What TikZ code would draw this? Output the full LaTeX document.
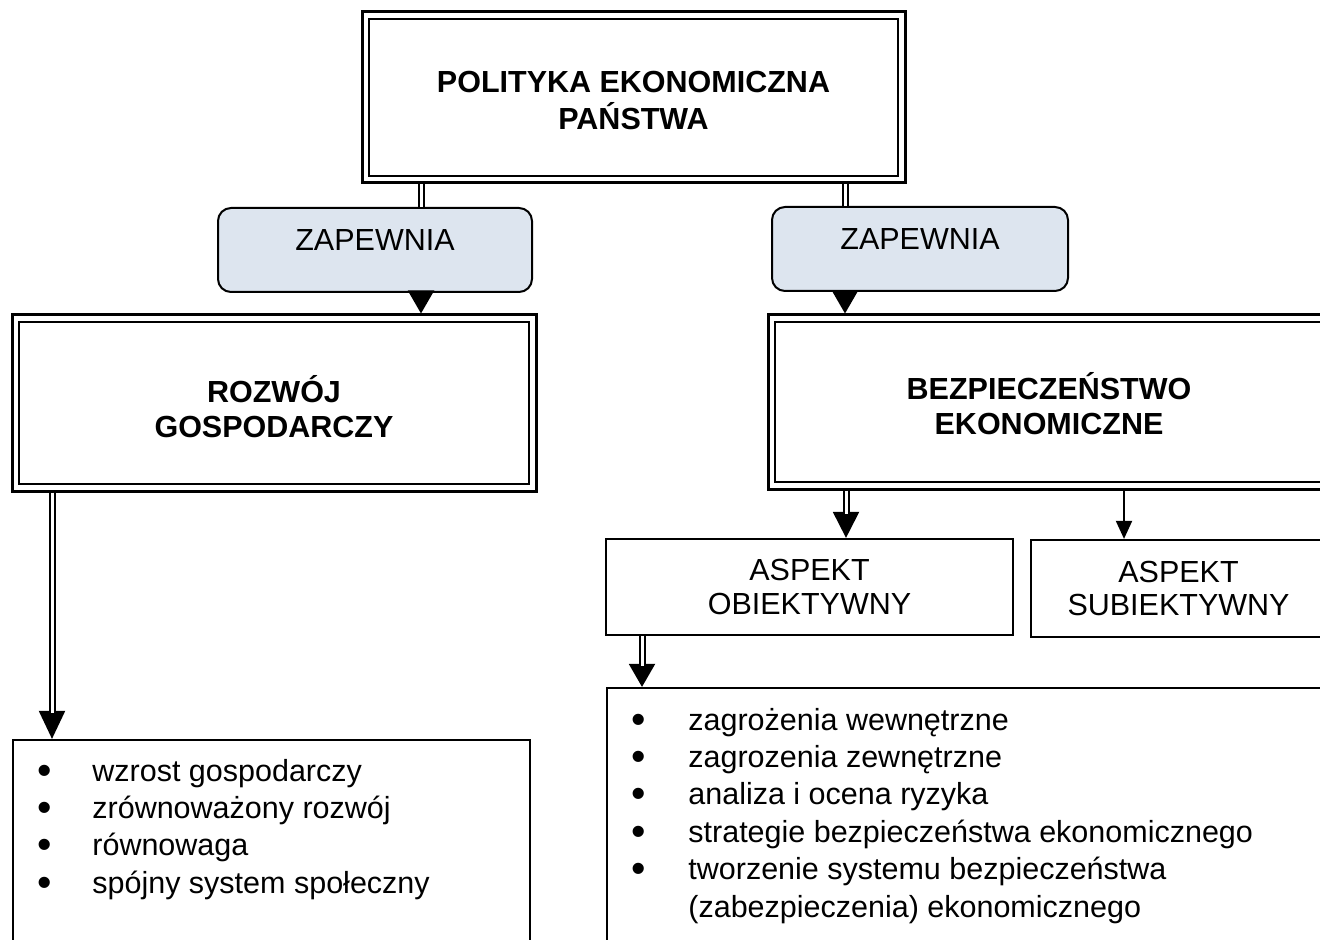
\documentclass[tikz,border=0pt]{standalone}
\usepackage{fontspec}
\setmainfont{Liberation Sans}
\usetikzlibrary{arrows.meta}
\definecolor{zapfill}{RGB}{221,229,239}
% two centred lines, moved down by #1 without changing the box size
\newcommand\droptitle[2]{\raisebox{-#1}[\height][\depth]{\begin{tabular}{@{}c@{}}#2\end{tabular}}}
% enlarged list bullet
\newcommand\blt{\raisebox{-1.5pt}{\scalebox{1.35}{•}}}
\begin{document}
\begin{tikzpicture}[x=0.5pt,y=-0.5pt,
  every node/.style={font=\fontsize{15.25pt}{17.5pt}\selectfont},
  title/.style={font=\fontsize{15.25pt}{17.5pt}\selectfont\bfseries},
  dblbox/.style={draw, line width=1.5pt, rectangle, inner sep=0pt},
  innerframe/.style={line width=1pt},
  zapbox/.style={draw, line width=1pt, rounded corners=6.5pt, fill=zapfill, inner sep=0pt},
  plainbox/.style={draw, line width=1.1pt, inner sep=0pt, align=center,
    font=\fontsize{15.25pt}{16.75pt}\selectfont},
  listtext/.style={inner sep=0pt, font=\fontsize{15.25pt}{18.7pt}\selectfont},
  dbl/.style={double, line width=1pt, double distance=1.5pt},
  bigtip/.style={line width=1pt, -{Triangle[width=13pt,length=#1]}},
  bigtip/.default=13pt,
  smalltip/.style={line width=1pt, -{Triangle[width=8pt,length=9pt]}},
]
\useasboundingbox (0,0) rectangle (1320,940);

% main box
\node[dblbox, title, minimum width=271.5pt, minimum height=85.5pt] (top) at (633.5,97.5)
  {\droptitle{3.2pt}{POLITYKA EKONOMICZNA\\PAŃSTWA}};

% "ZAPEWNIA" links
\node[zapbox, minimum width=157pt, minimum height=42pt] (zapL) at (375,250)
  {\raisebox{5pt}[\height][\depth]{ZAPEWNIA}};
\node[zapbox, minimum width=148pt, minimum height=42pt] (zapR) at (920,249)
  {\raisebox{5pt}[\height][\depth]{ZAPEWNIA}};

% second level
\node[dblbox, title, minimum width=262pt, minimum height=88pt] (roz) at (274,403)
  {\droptitle{4.2pt}{ROZWÓJ\\GOSPODARCZY}};
\node[dblbox, title, minimum width=281pt, minimum height=87pt] (bez) at (1049,402)
  {\droptitle{3.45pt}{BEZPIECZEŃSTWO\\EKONOMICZNE}};

% aspects
\node[plainbox, minimum width=203.5pt, minimum height=48pt] (aspO) at (809.5,587)
  {ASPEKT\\OBIEKTYWNY};
\node[plainbox, minimum width=147.5pt, minimum height=48.5pt] (aspS) at (1178.5,588.5)
  {ASPEKT\\SUBIEKTYWNY};

% list frames
\node[plainbox, minimum width=258.5pt, minimum height=120pt] (listL) at (271.5,860) {};
\node[plainbox, minimum width=369pt, minimum height=146pt] (listR) at (976,834) {};

% inner frames of the double boxes
\foreach \b in {top,roz,bez}
  \draw[innerframe] ([shift={(4.2pt,4.2pt)}]\b.south west) rectangle ([shift={(-4.2pt,-4.2pt)}]\b.north east);

% list contents
\node[listtext, anchor=base west] (itemsL) at (37,781)
  {\begin{tabular}[t]{@{}p{27.5pt}@{}l@{}}
   \blt & wzrost gospodarczy\\
   \blt & zrównoważony rozwój\\
   \blt & równowaga\\
   \blt & spójny system społeczny
   \end{tabular}};
\node[listtext, anchor=base west] (itemsR) at (631,730)
  {\begin{tabular}[t]{@{}p{28.5pt}@{}l@{}}
   \blt & zagrożenia wewnętrzne\\
   \blt & zagrozenia zewnętrzne\\
   \blt & analiza i ocena ryzyka\\
   \blt & strategie bezpieczeństwa ekonomicznego\\
   \blt & tworzenie systemu bezpieczeństwa\\
        & (zabezpieczenia) ekonomicznego
   \end{tabular}};

% connector columns
\coordinate (xA) at (421,0);
\coordinate (xB) at (845,0);
\coordinate (xC) at (52,0);
\coordinate (xD) at (846,0);
\coordinate (xE) at (1124,0);
\coordinate (xF) at (642,0);

% connectors
\draw[dbl] (top.south -| xA) -- (zapL.north -| xA);
\draw[dbl] (top.south -| xB) -- (zapR.north -| xB);
\draw[bigtip=11.5pt] (zapL.south -| xA) -- (roz.north -| xA);
\draw[bigtip=11.5pt] (zapR.south -| xB) -- (bez.north -| xB);

\draw[bigtip=14pt] (roz.south -| xC) -- (listL.north -| xC);
\draw[dbl, shorten >=13pt] (roz.south -| xC) -- (listL.north -| xC);

\draw[bigtip=13pt] (bez.south -| xD) -- (aspO.north -| xD);
\draw[dbl, shorten >=12pt] (bez.south -| xD) -- (aspO.north -| xD);

\draw[smalltip] (bez.south -| xE) -- (aspS.north -| xE);

\draw[bigtip=11.5pt] (aspO.south -| xF) -- (listR.north -| xF);
\draw[dbl, shorten >=10.5pt] (aspO.south -| xF) -- (listR.north -| xF);
\end{tikzpicture}
\end{document}
